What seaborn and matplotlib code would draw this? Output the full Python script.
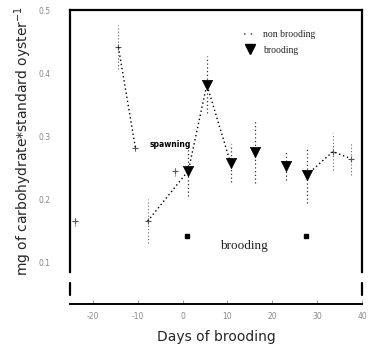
import numpy as np
import pandas as pd
import matplotlib
matplotlib.use("Agg")
import matplotlib.pyplot as plt
from matplotlib.lines import Line2D
import seaborn as sns

# ---- data ----
nb_days = [-24.0, -14.3, -10.5, -7.8, -1.8, 33.5, 37.5]
nb_carb = [0.166, 0.441, 0.281, 0.166, 0.245, 0.276, 0.265]
nb_err = [0.008, 0.035, 0.0, 0.035, 0.008, 0.029, 0.026]

br_days = [1.3, 5.4, 10.7, 16.1, 23.0, 27.7]
br_carb = [0.246, 0.382, 0.258, 0.276, 0.254, 0.239]
br_err = [0.04, 0.045, 0.03, 0.05, 0.023, 0.044]

# dotted connecting segments: (segment id, day, value)
seg_id = ["a", "a", "b", "b", "b", "b", "c", "c", "c"]
seg_days = [-14.3, -10.5, -7.8, 1.3, 5.4, 10.7, 27.7, 33.5, 37.5]
seg_carb = [0.441, 0.281, 0.166, 0.246, 0.382, 0.258, 0.239, 0.276, 0.265]

brood_period = [1.0, 27.5]
brood_level = 0.143

x_ticks = [-20, -10, 0, 10, 20, 30, 40]
y_ticks = [0.1, 0.2, 0.3, 0.4, 0.5]
y_ticklabels = ["0.1", "0.2", "0.3", "0.4", "0.5"]

sns.set_style("white")
plt.rcParams["font.family"] = ["DejaVu Sans"]

W, H = 369, 347
fig = plt.figure(figsize=(W / 100, H / 100), dpi=100)
L, R, T, B = 70, 362, 10, 272
ax = fig.add_axes([L / W, 1 - B / H, (R - L) / W, (B - T) / H])

seg = pd.DataFrame({"seg": seg_id, "day": seg_days, "carb": seg_carb})
sns.lineplot(data=seg, x="day", y="carb", units="seg", estimator=None,
             color="black", linestyle=(0, (1, 2)), linewidth=1.0, ax=ax,
             legend=False)

ax.errorbar(nb_days, nb_carb, yerr=nb_err, fmt="none", ecolor="#666666",
            elinewidth=0.8, capsize=0)
ax.errorbar(br_days, br_carb, yerr=br_err, fmt="none", ecolor="#333333",
            elinewidth=0.9, capsize=0)
for c in ax.collections[-2:]:
    c.set_linestyle((0, (1, 2)))

nb = pd.DataFrame({"day": nb_days, "carb": nb_carb})
br = pd.DataFrame({"day": br_days, "carb": br_carb})
sns.scatterplot(data=nb, x="day", y="carb", marker="+", s=18, color="#555555",
                linewidth=0.8, ax=ax, legend=False)
sns.scatterplot(data=br, x="day", y="carb", marker="v", s=55, color="black",
                edgecolor="black", linewidth=0.5, ax=ax, legend=False, zorder=5)

# brooding period marks
ax.plot(brood_period, [brood_level, brood_level], linestyle="none",
        marker="s", markersize=2.5, color="black")

ax.set_xlim(-25.1, 40)
ax.set_ylim(0.0856, 0.5)

ax.text(13.6, 0.126, "brooding", fontsize=9.5, family="Liberation Serif",
        ha="center", va="center", color="#222222")
ax.text(-7.4, 0.287, "spawning", fontsize=5.5, ha="left", va="center",
        color="black", fontweight="bold")

# axes styling
for s in ["left", "top", "right"]:
    ax.spines[s].set_visible(True)
    ax.spines[s].set_color("black")
    ax.spines[s].set_linewidth(1.6)
ax.spines["bottom"].set_position(("outward", 23))
ax.spines["bottom"].set_linewidth(1.4)
ax.spines["bottom"].set_color("black")
for xa in (0, 1):
    ax.plot([xa, xa], [-23 / 262, -11 / 262], transform=ax.transAxes,
            color="black", linewidth=1.6, clip_on=False)

ax.set_xticks(x_ticks)
ax.set_xticklabels([str(v) for v in x_ticks])
ax.tick_params(axis="x", direction="in", length=3, width=0.6, pad=6,
               labelsize=5.5, labelcolor="#888888", colors="#888888",
               bottom=True)
ax.set_yticks(y_ticks)
ax.set_yticklabels(y_ticklabels)
ax.set_yticks([0.2, 0.4], minor=True)
ax.tick_params(axis="y", which="major", length=0, pad=14, labelsize=5.5,
               labelcolor="#888888", left=True)
ax.tick_params(axis="y", which="minor", length=4, width=0.8, color="#555555",
               left=True)

ax.set_xlabel("Days of brooding", fontsize=10, labelpad=6)
ax.set_ylabel("mg of carbohydrate*standard oyster$^{-1}$", fontsize=10,
              labelpad=3)

handles = [Line2D([], [], color="#666666", linestyle=(0, (1, 3)), linewidth=1.2),
           Line2D([], [], color="black", marker="v", linestyle="none",
                  markersize=7)]
ax.legend(handles, ["non brooding", "brooding"], loc="upper left",
          bbox_to_anchor=((244 - L) / (R - L), 1 - (30 - T) / (B - T)),
          frameon=False, prop={"family": "Liberation Serif", "size": 7},
          handlelength=1.2, handletextpad=0.8, labelspacing=0.7,
          borderaxespad=0, borderpad=0)

fig.savefig("out.png", dpi=100)
